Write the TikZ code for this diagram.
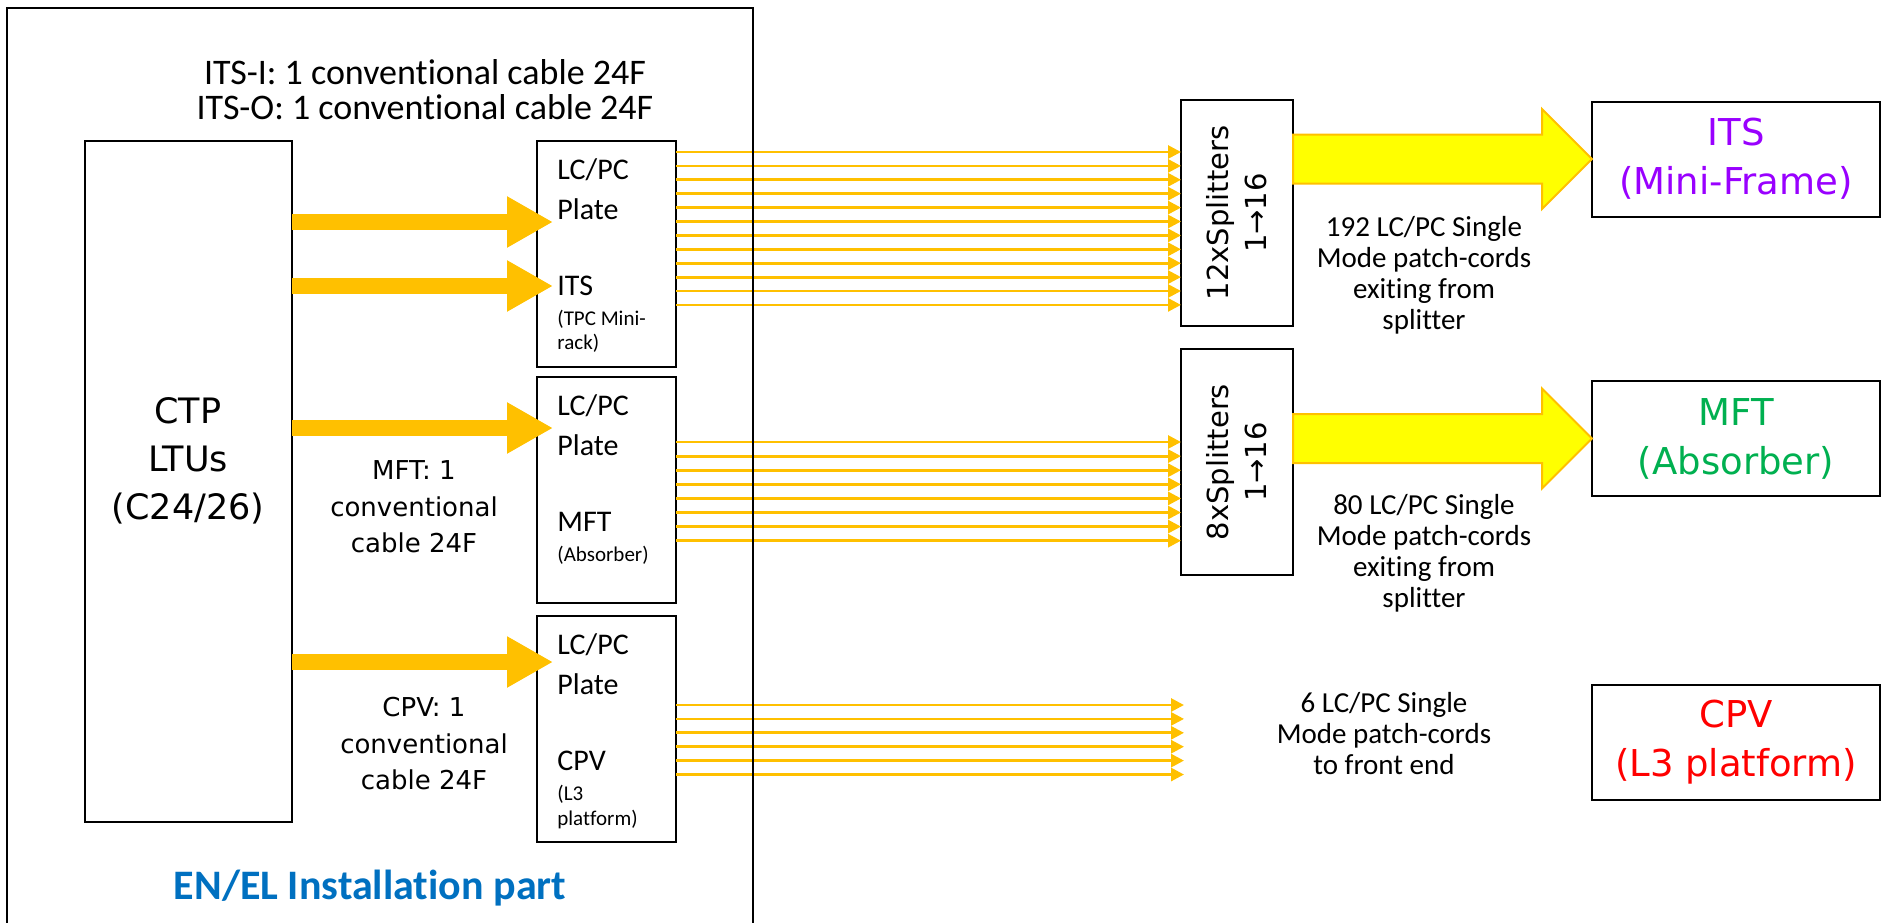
\documentclass[tikz,border=0pt]{standalone}
\usepackage{fontspec}
\setmainfont{Carlito}[Ligatures=CommonOff]
\newfontfamily\comicfont{DejaVu Sans}
\usetikzlibrary{arrows.meta,calc,positioning}

\definecolor{cable}{HTML}{FFC000}
\definecolor{bigyellow}{HTML}{FFFF00}
\definecolor{itscolor}{HTML}{9900FF}
\definecolor{mftcolor}{HTML}{00B050}
\definecolor{cpvcolor}{HTML}{FF0000}
\definecolor{enelcolor}{HTML}{0070C0}

\tikzset{
    box/.style={draw,line width=1pt,inner sep=0pt,outer sep=0pt},
    fatcable/.style={cable,line width=8pt,-{Triangle[length=23pt,width=24pt]},shorten >=-8pt},
    fibre/.style={cable,line width=1.4pt,-{Triangle[length=6.5pt,width=6.5pt]}},
    bigarrow/.style={fill=bigyellow,draw=cable,line width=1pt,line join=miter},
    platetext/.style={anchor=base west,inner sep=0pt,font=\fontsize{15}{18}\selectfont},
    platesmall/.style={anchor=base west,inner sep=0pt,font=\fontsize{10.5}{12}\selectfont},
    comic/.style={align=center,inner sep=0pt,font=\comicfont\fontsize{#1}{1.38*#1}\selectfont},
    target/.style={box,minimum width=144pt,minimum height=57.5pt,align=center,
        font=\comicfont\fontsize{18.5}{24.5}\selectfont},
}

\newcommand\PLATEBOX[4] {
    % #1 name, #2 top edge, #3 detector, #4 location.
    \node[box,minimum width=69.5pt,minimum height=113pt] (#1) at (606.5,#2+113) {};
    \node[platetext] (#1_lc) at (557,#2+38) {LC/PC};
    \node[platetext] (#1_plate) at (557,#2+78) {Plate};
    \node[platetext] (#1_det) at (557,#2+154) {#3};
    \node[platesmall] (#1_loc) at (557,#2+184) {#4};
}

\newcommand\FATARROW[2] {
    \filldraw[bigarrow] let \p1=(#1.east), \p2=(#2.west) in
        (\x1,\y2+12.25pt) -- (\x2-25pt,\y2+12.25pt) -- (\x2-25pt,\y2+25pt) -- (\x2,\y2)
        -- (\x2-25pt,\y2-25pt) -- (\x2-25pt,\y2-12.25pt) -- (\x1,\y2-12.25pt) -- cycle;
}

\begin{document}
\begin{tikzpicture}[x=0.5pt,y=-0.5pt]
    \useasboundingbox (0,0) rectangle (1883,922);

    % CTP crate and patch plates.
    \node[box,minimum width=103.5pt,minimum height=340.5pt] (ctp) at (188.5,481.5) {};
    \node[comic=17.5,font=\comicfont\fontsize{17.5}{24}\selectfont] (ctptext) at (188,461) {CTP\\LTUs\\(C24/26)};
    \PLATEBOX{p1}{141}{ITS}{(TPC Mini-}
    \node[platesmall] (p1_loc2) at (557,349) {rack)};
    \PLATEBOX{p2}{377}{MFT}{(Absorber)}
    \PLATEBOX{p3}{616}{CPV}{(L3}
    \node[platesmall] (p3_loc2) at (557,825) {platform)};

    \node[align=center,inner sep=0pt,font=\fontsize{18}{17.5}\selectfont] (itscable) at (425,89.5)
        {ITS-I: 1 conventional cable 24F\\ITS-O: 1 conventional cable 24F};
    \node[comic=13,font=\comicfont\fontsize{13}{18.25}\selectfont] (mftcable) at (414,507) {MFT: 1\\conventional\\cable 24F};
    \node[comic=13,font=\comicfont\fontsize{13}{18.25}\selectfont] (cpvcable) at (424,744) {CPV: 1\\conventional\\cable 24F};

    % Conventional cables.
    \draw[fatcable] (ctp.east |- 0,222) -- (p1.west |- 0,222);
    \draw[fatcable] (ctp.east |- 0,286) -- (p1.west |- 0,286);
    \draw[fatcable] (ctp.east |- 0,428) -- (p2.west |- 0,428);
    \draw[fatcable] (ctp.east |- 0,662) -- (p3.west |- 0,662);

    % Splitters.
    \node[box,minimum width=56pt,minimum height=113pt] (sp1) at (1237,213) {};
    \node[comic=14.5,font=\comicfont\fontsize{14.5}{19}\selectfont,rotate=90] (sp1text) at (sp1) {12xSplitters\\1→16};
    \node[box,minimum width=56pt,minimum height=113pt] (sp2) at (1237,462) {};
    \node[comic=14.5,font=\comicfont\fontsize{14.5}{19}\selectfont,rotate=90] (sp2text) at (sp2) {8xSplitters\\1→16};
    \coordinate (cpvend) at (1184,740);

    % Single mode fibres.
    \foreach \i in {0,...,11}
    {
        \pgfmathsetmacro\yy{152+13.9*\i}
        \draw[fibre] (p1.east |- 0,\yy) -- (sp1.west |- 0,\yy);
    }
    \foreach \i in {0,...,7}
    {
        \pgfmathsetmacro\yy{442+14.1*\i}
        \draw[fibre] (p2.east |- 0,\yy) -- (sp2.west |- 0,\yy);
    }
    \foreach \i in {0,...,5}
    {
        \pgfmathsetmacro\yy{705+13.9*\i}
        \draw[fibre] (p3.east |- 0,\yy) -- (cpvend |- 0,\yy);
    }

    % Front ends.
    \node[target,text=itscolor] (its) at (1736,159) {ITS\\(Mini-Frame)};
    \node[target,text=mftcolor] (mft) at (1736,438.5) {MFT\\(Absorber)};
    \node[target,text=cpvcolor] (cpv) at (1736,742) {CPV\\(L3 platform)};
    \FATARROW{sp1}{its}
    \FATARROW{sp2}{mft}

    \node[align=center,inner sep=0pt,font=\fontsize{14.5}{15.5}\selectfont] (itsnote) at (1424,275)
        {192 LC/PC Single\\Mode patch-cords\\exiting from\\splitter};
    \node[align=center,inner sep=0pt,font=\fontsize{14.5}{15.5}\selectfont] (mftnote) at (1424,553)
        {80 LC/PC Single\\Mode patch-cords\\exiting from\\splitter};
    \node[align=center,inner sep=0pt,font=\fontsize{14.5}{15.5}\selectfont] (cpvnote) at (1384,734)
        {6 LC/PC Single\\Mode patch-cords\\to front end};

    % Installation frame.
    \node[box,line width=1.2pt,anchor=north west,minimum width=373pt,minimum height=470pt] (install) at (7,8) {};
    \node[inner sep=0pt,text=enelcolor,font=\bfseries\fontsize{21}{25}\selectfont] (enel) at (370,888) {EN/EL Installation part};
\end{tikzpicture}
\end{document}
